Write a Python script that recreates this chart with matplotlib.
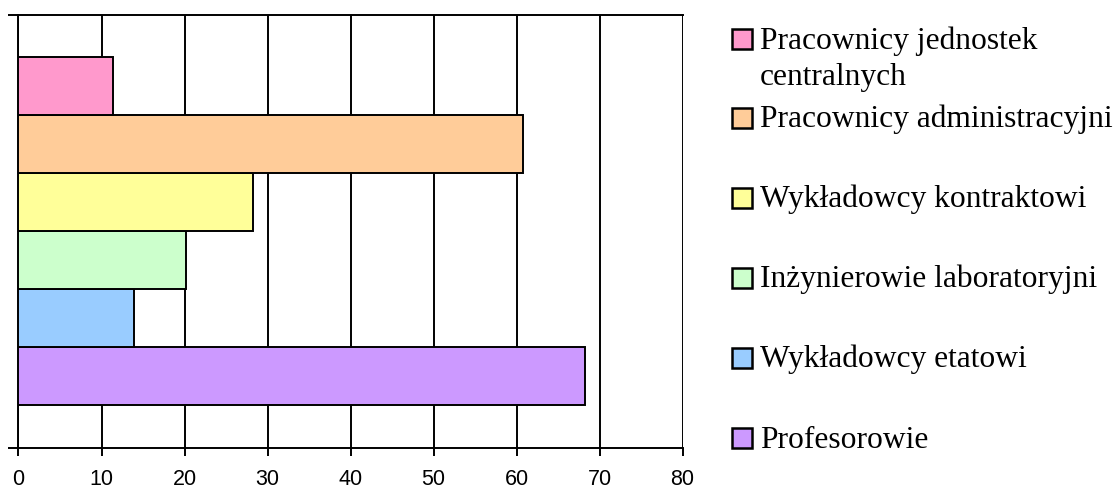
import matplotlib
matplotlib.use("Agg")
import matplotlib.pyplot as plt
from matplotlib.patches import Rectangle

# Data (bottom to top in the chart)
categories = [
    "Profesorowie",
    "Wykładowcy etatowi",
    "Inżynierowie laboratoryjni",
    "Wykładowcy kontraktowi",
    "Pracownicy administracyjni",
    "Pracownicy jednostek\ncentralnych",
]
values = [68.2, 13.9, 20.2, 28.3, 60.8, 11.4]
colors = ["#CC99FF", "#99CCFF", "#CCFFCC", "#FFFF99", "#FFCC99", "#FF99CC"]
xticks = [0, 10, 20, 30, 40, 50, 60, 70, 80]

W, H = 1119, 491
fig = plt.figure(figsize=(W / 100, H / 100), dpi=100)

def fx(px):
    return px / W

def fy(py):
    return 1 - py / H

ax_l, ax_r, ax_t, ax_b = 18.5, 682.5, 15, 447.5
ax = fig.add_axes([fx(ax_l), fy(ax_b), fx(ax_r - ax_l), (ax_b - ax_t) / H])

bar_h = 58.0
total = (ax_b - ax_t) / bar_h
gap = (total - len(values)) / 2
ypos = [gap + i + 0.5 for i in range(len(values))]

lw = 1.4
ax.barh(ypos, values, height=1.0, color=colors, edgecolor="black",
        linewidth=lw, zorder=3)

ax.set_xlim(0, 80)
ax.set_ylim(0, total)
ax.set_xticks(xticks)
ax.set_xticklabels([str(t) for t in xticks], fontfamily="Liberation Sans", fontsize=15.5)
ax.set_yticks([0, total])
ax.set_yticklabels([])
ax.tick_params(axis="x", direction="out", length=5.5, width=lw, pad=10, colors="black")
ax.tick_params(axis="y", direction="out", length=7.2, width=lw)
ax.grid(axis="x", color="black", linewidth=lw, zorder=0)
ax.set_axisbelow(True)
for s in ax.spines.values():
    s.set_linewidth(lw)
    s.set_color("black")
ax.spines["right"].set_visible(False)

# Legend (manual, top to bottom)
box_tops = [29, 108, 188, 268, 348, 428]
box = 20
fs = 22.7
line_gap = 37
for i, (lab, col) in enumerate(zip(categories[::-1], colors[::-1])):
    top = box_tops[i]
    fig.patches.append(Rectangle((fx(732), fy(top + box)), fx(box), box / H,
                                 facecolor=col, edgecolor="black", linewidth=1.8,
                                 transform=fig.transFigure, figure=fig))
    lines = lab.split("\n")
    for j, ln in enumerate(lines):
        fig.text(fx(760), fy(top + 19.5 + j * line_gap), ln,
                 fontfamily="Liberation Serif", fontsize=fs,
                 va="baseline", ha="left")

fig.savefig("out.png", dpi=100)
